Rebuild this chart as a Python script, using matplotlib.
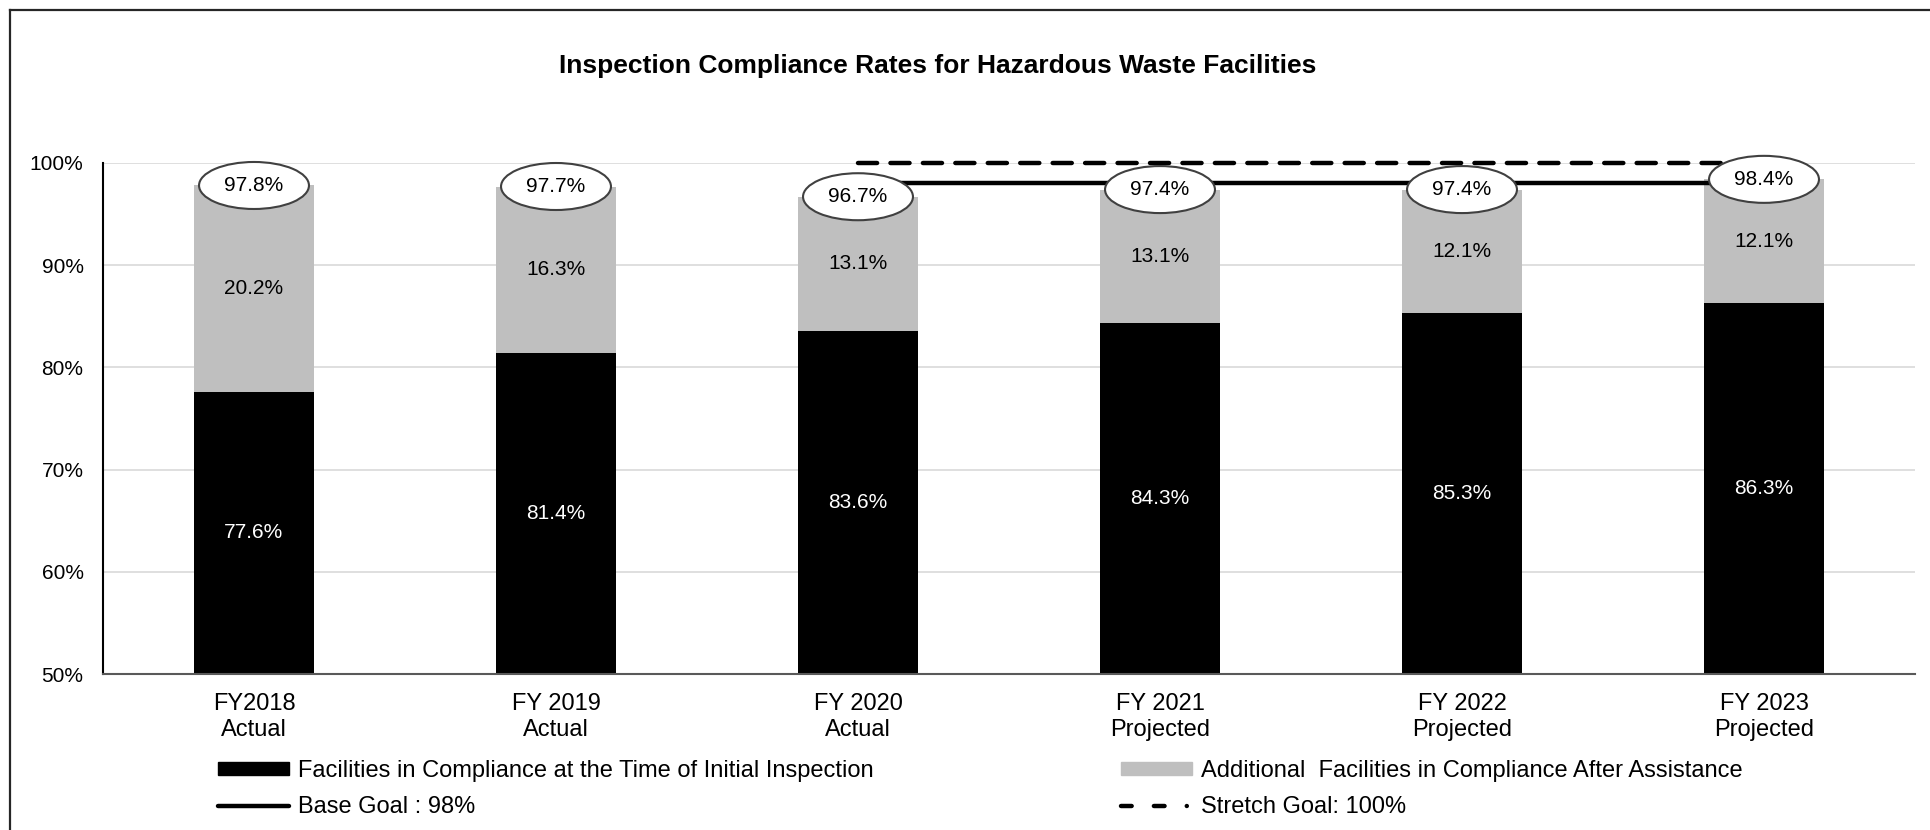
import matplotlib
matplotlib.use("Agg")
import matplotlib.pyplot as plt
from matplotlib.patches import Ellipse, Patch
from matplotlib.lines import Line2D

plt.rcParams["font.family"] = ["Liberation Sans", "DejaVu Sans"]

CATS = ["FY2018\nActual", "FY 2019\nActual", "FY 2020\nActual",
        "FY 2021\nProjected", "FY 2022\nProjected", "FY 2023\nProjected"]
INITIAL = [77.6, 81.4, 83.6, 84.3, 85.3, 86.3]
ASSIST = [20.2, 16.3, 13.1, 13.1, 12.1, 12.1]
TOTAL = [97.8, 97.7, 96.7, 97.4, 97.4, 98.4]
BASE_GOAL = 98
STRETCH_GOAL = 100
GOAL_FROM, GOAL_TO = 2, 5          # goal lines span FY2020 .. FY2023
YTICKS = [50, 60, 70, 80, 90, 100]

W, H = 1931, 830
fig = plt.figure(figsize=(W / 100, H / 100), dpi=100)
ax = fig.add_axes([103 / W, 1 - 674 / H, (1915 - 103) / W, (674 - 163) / H])

x = list(range(len(CATS)))
bw = 0.4
ax.bar(x, INITIAL, bw, color="black", zorder=2)
ax.bar(x, ASSIST, bw, bottom=INITIAL, color="#bfbfbf", zorder=2)

ax.set_xlim(-0.5, len(CATS) - 0.5)
ax.set_ylim(50, 100)

# goal lines
ax.plot([GOAL_FROM, GOAL_TO], [BASE_GOAL] * 2, color="black", lw=3.2,
        solid_capstyle="butt", zorder=3)
ax.plot([GOAL_FROM, GOAL_TO], [STRETCH_GOAL] * 2, color="black", lw=3.2,
        linestyle=(0, (4.3, 3)), dash_capstyle="round", zorder=3,
        clip_on=False)

# labels
lo = ax.get_ylim()[0]
for i in x:
    ax.text(i, (lo + INITIAL[i]) / 2, f"{INITIAL[i]:.1f}%", color="white",
            ha="center", va="center", fontsize=15, zorder=4)
    ax.text(i, INITIAL[i] + ASSIST[i] / 2, f"{ASSIST[i]:.1f}%", color="black",
            ha="center", va="center", fontsize=15, zorder=4)
    ax.add_patch(Ellipse((i, TOTAL[i]), 0.364, 4.6, facecolor="white",
                         edgecolor="#404040", lw=1.5, zorder=5, clip_on=False))
    ax.text(i, TOTAL[i], f"{TOTAL[i]:.1f}%", color="black", ha="center",
            va="center", fontsize=15, zorder=6)

ax.set_yticks(YTICKS)
ax.set_yticklabels([f"{v}%" for v in YTICKS], fontsize=15)
ax.set_xticks(x)
ax.set_xticklabels(CATS, fontsize=17, linespacing=1.2)
ax.tick_params(axis="y", length=0, pad=14)
ax.tick_params(axis="x", length=0, pad=14)
ax.grid(axis="y", color="#d9d9d9", lw=1.2, zorder=0)
ax.set_axisbelow(True)
for s in ("top", "right"):
    ax.spines[s].set_visible(False)
ax.spines["left"].set_color("black")
ax.spines["left"].set_linewidth(1.5)
ax.spines["bottom"].set_color("#595959")
ax.spines["bottom"].set_linewidth(1.5)

fig.text(938 / W, 1 - 66 / H,
         "Inspection Compliance Rates for Hazardous Waste Facilities",
         ha="center", va="center", fontsize=19, fontweight="bold")

# legend, two columns placed separately
common = dict(frameon=False, fontsize=17, handlelength=3.0, handleheight=0.5,
              handletextpad=0.4, labelspacing=0.6, borderpad=0,
              borderaxespad=0, loc="upper left")
h1 = [Patch(color="black"),
      Line2D([], [], color="black", lw=3.2, solid_capstyle="round")]
l1 = ["Facilities in Compliance at the Time of Initial Inspection",
      "Base Goal : 98%"]
h2 = [Patch(color="#bfbfbf"),
      Line2D([], [], color="black", lw=3.2,
             linestyle=(0, (2.4, 5, 2.4, 5, 0.01, 20)),
             dash_capstyle="round")]
l2 = ["Additional  Facilities in Compliance After Assistance",
      "Stretch Goal: 100%"]
fig.legend(h1, l1, bbox_to_anchor=(218 / W, 1 - 760 / H), **common)
fig.legend(h2, l2, bbox_to_anchor=(1121 / W, 1 - 760 / H), **common)

# outer frame (right/bottom edges fall outside the picture)
fig.add_artist(Line2D([10 / W, 1.0], [1 - 10 / H] * 2, color="#262626", lw=1.6))
fig.add_artist(Line2D([10 / W] * 2, [0, 1 - 10 / H], color="#262626", lw=1.6))

fig.savefig("out.png", dpi=100)
